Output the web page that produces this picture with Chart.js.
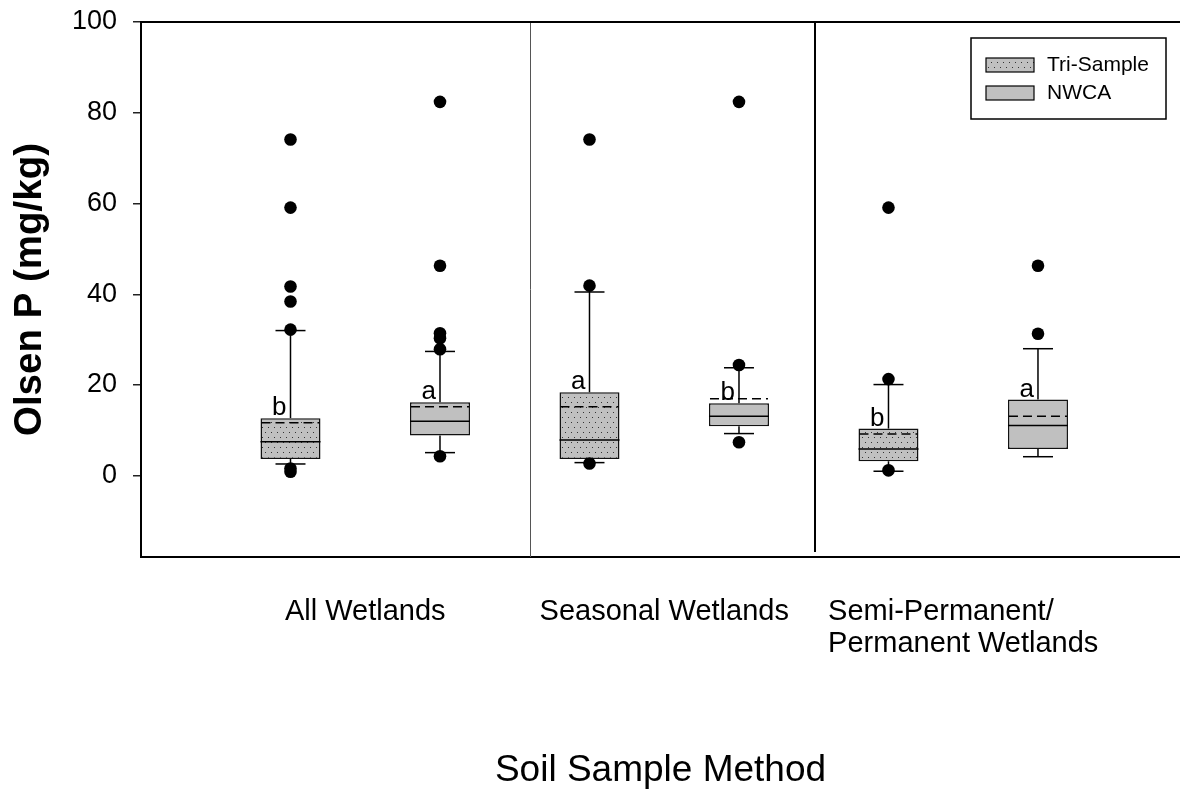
<!DOCTYPE html>
<html>
<head>
<meta charset="utf-8">
<script src="https://cdn.jsdelivr.net/npm/chart.js@4.4.1/dist/chart.umd.min.js"></script>
<style>
  html, body { margin: 0; padding: 0; background: #fff; overflow: hidden; }
  #wrap { width: 1180px; height: 797px; position: relative; }
</style>
</head>
<body>
<div id="wrap"><canvas id="grafico"></canvas></div>
<script>
// categorias (grupos de áreas úmidas)
const grupos = ["All Wetlands", "Seasonal Wetlands", ["Semi-Permanent/", "Permanent Wetlands"]];
const posTri = [1, 3, 5];
const posNwca = [2, 4, 6];

// Tri-Sample
const triQ1 = [3.7, 3.7, 3.2];
const triQ3 = [12.7, 18.4, 10.4];
const triMediana = [7.5, 7.9, 5.9];
const triMedia = [11.7, 15.2, 9.2];
const triMin = [2.6, 2.9, 1.0];
const triMax = [32.0, 40.5, 20.1];
const triOutliers = [[74.1, 59.1, 41.7, 38.4, 32.2, 1.6, 0.9], [74.1, 41.9, 2.7], [59.1, 21.3, 1.2]];
const triLetras = ["b", "a", "b"];

// NWCA
const nwcaQ1 = [8.9, 10.9, 5.9];
const nwcaQ3 = [16.2, 16.0, 16.8];
const nwcaMediana = [12.0, 13.1, 11.1];
const nwcaMedia = [15.2, 17.0, 13.1];
const nwcaMin = [5.1, 9.3, 4.2];
const nwcaMax = [27.4, 23.8, 28.0];
const nwcaOutliers = [[82.4, 46.3, 31.4, 30.3, 27.9, 4.3], [82.4, 24.4, 7.4], [46.3, 31.3]];
const nwcaLetras = ["a", "b", "a"];

const yTicks = [0, 20, 40, 60, 80, 100];
const divisorias = [2.605, 4.51];

const FONTE = "'Liberation Sans', Arial, Helvetica, sans-serif";
Chart.defaults.font.family = FONTE;
Chart.defaults.color = "#000";

// textura pontilhada do Tri-Sample
function criarPadrao() {
  const c = document.createElement("canvas");
  c.width = 6;
  c.height = 10;
  const g = c.getContext("2d");
  g.fillStyle = "#c0c0c0";
  g.fillRect(0, 0, 6, 10);
  g.fillStyle = "#333";
  g.fillRect(1, 2, 1, 1);
  g.fillRect(4, 7, 1, 1);
  return g.createPattern(c, "repeat");
}
const padrao = criarPadrao();

const series = [
  { nome: "Tri-Sample", pos: posTri, q1: triQ1, q3: triQ3, med: triMediana, media: triMedia, min: triMin, max: triMax, out: triOutliers, letras: triLetras, cor: padrao },
  { nome: "NWCA", pos: posNwca, q1: nwcaQ1, q3: nwcaQ3, med: nwcaMediana, media: nwcaMedia, min: nwcaMin, max: nwcaMax, out: nwcaOutliers, letras: nwcaLetras, cor: "#c0c0c0" }
];

const datasets = [];
series.forEach((s) => {
  datasets.push({
    type: "bar",
    label: s.nome,
    data: s.pos.map((x, i) => ({ x: x, y: [s.q1[i], s.q3[i]] })),
    backgroundColor: s.cor,
    borderColor: "#111",
    borderWidth: 1.5,
    borderSkipped: false,
    grouped: false,
    maxBarThickness: 60,
    order: 2
  });
});
series.forEach((s) => {
  const pts = [];
  s.pos.forEach((x, i) => s.out[i].forEach((v) => pts.push({ x: x, y: v })));
  datasets.push({
    type: "scatter",
    label: s.nome + " outliers",
    data: pts,
    pointRadius: 6.3,
    pointHoverRadius: 6.3,
    backgroundColor: "#000",
    borderWidth: 0,
    order: 1
  });
});

function linha(ctx, x1, y1, x2, y2) {
  ctx.beginPath();
  ctx.moveTo(x1, y1);
  ctx.lineTo(x2, y2);
  ctx.stroke();
}

const extras = {
  id: "extras",
  beforeDatasetsDraw(chart) {
    const { ctx, chartArea, scales: { x, y } } = chart;
    ctx.save();
    // divisórias entre grupos
    let dx = Math.round(x.getPixelForValue(divisorias[0])) + 0.5;
    ctx.strokeStyle = "#555";
    ctx.lineWidth = 1;
    linha(ctx, dx, chartArea.top, dx, chartArea.bottom);
    dx = Math.round(x.getPixelForValue(divisorias[1]));
    ctx.strokeStyle = "#000";
    ctx.lineWidth = 2;
    linha(ctx, dx, chartArea.top, dx, chartArea.bottom - 5);

    // whiskers
    ctx.strokeStyle = "#000";
    ctx.lineWidth = 1.5;
    series.forEach((s) => {
      s.pos.forEach((p, i) => {
        const cx = x.getPixelForValue(p);
        const topo = y.getPixelForValue(s.max[i]);
        const base = y.getPixelForValue(s.min[i]);
        linha(ctx, cx, topo, cx, y.getPixelForValue(s.q3[i]));
        linha(ctx, cx, y.getPixelForValue(s.q1[i]), cx, base);
        linha(ctx, cx - 15, topo, cx + 15, topo);
        linha(ctx, cx - 15, base, cx + 15, base);
      });
    });
    ctx.restore();
  },
  afterDatasetsDraw(chart) {
    const { ctx, chartArea, scales: { x, y } } = chart;
    ctx.save();
    ctx.strokeStyle = "#000";
    ctx.lineWidth = 1.5;
    series.forEach((s) => {
      s.pos.forEach((p, i) => {
        const cx = x.getPixelForValue(p);
        // mediana
        const ym = y.getPixelForValue(s.med[i]);
        ctx.setLineDash([]);
        linha(ctx, cx - 30, ym, cx + 30, ym);
        // média tracejada
        const ya = y.getPixelForValue(s.media[i]);
        ctx.setLineDash([9, 5]);
        linha(ctx, cx - 29, ya, cx + 29, ya);
        ctx.setLineDash([]);
        // letra de significância
        ctx.fillStyle = "#000";
        ctx.font = "26px " + FONTE;
        ctx.textAlign = "right";
        ctx.textBaseline = "alphabetic";
        ctx.fillText(s.letras[i], cx - 4, y.getPixelForValue(s.q3[i]) - 3);
      });
    });

    // borda superior
    ctx.lineWidth = 2;
    linha(ctx, chartArea.left, chartArea.top, chartArea.right, chartArea.top);

    // rótulos dos grupos
    ctx.font = "29px " + FONTE;
    ctx.textAlign = "left";
    ctx.textBaseline = "alphabetic";
    grupos.forEach((g, i) => {
      const linhas = Array.isArray(g) ? g : [g];
      const cx = x.getPixelForValue((posTri[i] + posNwca[i]) / 2);
      const larg = Math.max(...linhas.map((t) => ctx.measureText(t).width));
      linhas.forEach((t, k) => {
        ctx.fillText(t, cx - larg / 2, chartArea.bottom + 63 + k * 32);
      });
    });

    // legenda
    const lx = chartArea.right - 209;
    const ly = chartArea.top + 16;
    ctx.fillStyle = "#fff";
    ctx.fillRect(lx, ly, 195, 81);
    ctx.lineWidth = 1.5;
    ctx.strokeRect(lx, ly, 195, 81);
    ctx.font = "21px " + FONTE;
    ctx.textBaseline = "middle";
    series.forEach((s, k) => {
      const cy = ly + 27 + k * 28;
      ctx.fillStyle = s.cor;
      ctx.fillRect(lx + 15, cy - 7, 48, 14);
      ctx.lineWidth = 1.2;
      ctx.strokeRect(lx + 15, cy - 7, 48, 14);
      ctx.fillStyle = "#000";
      ctx.fillText(s.nome, lx + 76, cy);
    });
    ctx.restore();
  }
};

new Chart(document.getElementById("grafico"), {
  data: { datasets: datasets },
  options: {
    responsive: true,
    maintainAspectRatio: false,
    devicePixelRatio: 1,
    animation: false,
    layout: { autoPadding: false, padding: { top: 22, right: 0, bottom: 0, left: 0 } },
    plugins: {
      legend: { display: false },
      tooltip: { enabled: false }
    },
    scales: {
      x: {
        type: "linear",
        offset: false,
        min: 0,
        max: 6.95,
        ticks: { display: false },
        grid: { display: false, offset: false },
        border: { display: true, color: "#000", width: 2 },
        title: {
          display: true,
          text: "Soil Sample Method",
          font: { size: 37, lineHeight: 1 },
          padding: { top: 0, bottom: 8 }
        },
        afterFit: (scale) => {
          scale.height = 240;
          scale.paddingLeft = 0;
          scale.paddingRight = 0;
        }
      },
      y: {
        type: "linear",
        min: -17.9,
        max: 100,
        afterBuildTicks: (scale) => { scale.ticks = yTicks.map((v) => ({ value: v })); },
        ticks: { font: { size: 27 }, padding: 16, color: "#000" },
        grid: { drawOnChartArea: false, drawTicks: true, tickLength: 8, color: "#222", lineWidth: 1.5 },
        border: { display: true, color: "#000", width: 2 },
        title: {
          display: true,
          text: "Olsen P (mg/kg)",
          font: { size: 38.5, weight: "bold", lineHeight: 1 },
          padding: { top: 11, bottom: 0 }
        },
        afterFit: (scale) => {
          scale.width = 141;
          scale.paddingTop = 0;
          scale.paddingBottom = 0;
        }
      }
    }
  },
  plugins: [extras]
});
</script>
</body>
</html>
